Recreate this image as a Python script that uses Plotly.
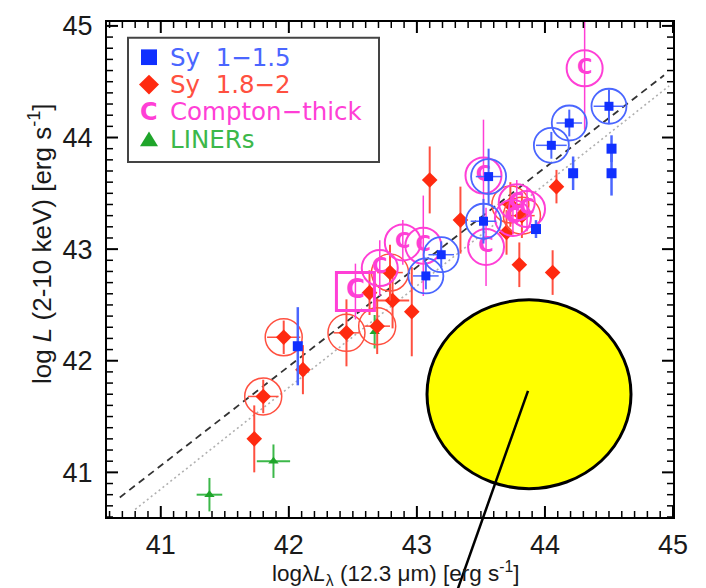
import plotly.graph_objects as go
import numpy as np

# ---- data: log L(12.3um) vs log L(2-10 keV) ----
# Seyfert 1-1.5 (plain)
sy1_x = [42.07, 43.93, 44.22, 44.52, 44.52]
sy1_y = [42.13, 43.18, 43.68, 43.90, 43.68]
sy1_ey = [0.35, 0.08, 0.15, 0.12, 0.20]
# Seyfert 1-1.5 (circled)
sy1c_x = [43.07, 43.19, 43.52, 43.56, 44.05, 44.19, 44.50]
sy1c_y = [42.76, 42.95, 43.25, 43.65, 43.93, 44.13, 44.28]
sy1c_ex = [0.10, 0.10, 0.10, 0.10, 0.12, 0.10, 0.12]
sy1c_ey = [0.12, 0.12, 0.20, 0.25, 0.12, 0.12, 0.15]

# Seyfert 1.8-2 (plain)
sy2_x = [41.73, 42.11, 42.63, 42.81, 42.96, 43.10, 43.34, 43.70, 43.80, 44.06, 44.09]
sy2_y = [41.30, 41.92, 42.61, 42.54, 42.44, 43.62, 43.26, 43.15, 42.86, 42.79, 43.56]
sy2_ex = [0.0, 0.0, 0.0, 0.13, 0.0, 0.0, 0.0, 0.0, 0.0, 0.0, 0.0]
sy2_ey = [0.30, 0.22, 0.20, 0.25, 0.40, 0.30, 0.30, 0.20, 0.20, 0.20, 0.15]
# Seyfert 1.8-2 (circled)
sy2c_x = [41.80, 41.96, 42.45, 42.69, 42.79, 43.73, 43.82]
sy2c_y = [41.68, 42.21, 42.25, 42.31, 42.79, 43.40, 43.30]
sy2c_ex = [0.12, 0.13, 0.10, 0.10, 0.10, 0.10, 0.10]
sy2c_ey = [0.15, 0.15, 0.30, 0.25, 0.25, 0.20, 0.20]

# Compton-thick sources
ct_x = [42.71, 42.89, 43.05, 43.52, 43.54, 43.78, 43.75, 43.86, 44.31]
ct_y = [42.83, 43.06, 43.03, 43.66, 43.02, 43.42, 43.28, 43.36, 44.62]
ct_ey = [0.25, 0.20, 0.45, 0.50, 0.35, 0.20, 0.15, 0.20, 0.55]
ct_sq_x = [42.52]
ct_sq_y = [42.62]
ct_sq_ey = [0.25]

# LINERs
liner_x = [41.38, 41.88, 42.67]
liner_y = [40.80, 41.10, 42.26]
liner_ex = [0.10, 0.13, 0.0]
liner_ey = [0.15, 0.15, 0.15]

# correlation lines: (slope, value at x=42, x start, x end)
fit_dash = (0.89, 41.95, 40.68, 44.93)
fit_dot = (0.91, 41.76, 40.80, 44.97)

legend_labels = ["Sy  1\u22121.5", "Sy  1.8\u22122", "Compton\u2212thick", "LINERs"]

# ---- styling ----
BLUE = "#1030ff"
BLUE_L = "#4a66ff"
RED = "#ff2a10"
RED_L = "#ff5040"
MAG = "#ff3fd6"
GREEN = "#1fa52a"
GREEN_L = "#3cb84a"

W, H = 706, 588
ML, MR, MT, MB = 107, 33, 11, 71
PW, PH = W - ML - MR, H - MT - MB
XR = [40.58, 45.0]
YR = [40.6, 45.035]
MAJOR_LEN, MINOR_LEN = 11, 6


def px(xp):
    return (xp - ML) / PW


def py(yp):
    return (H - MB - yp) / PH


fig = go.Figure()


def line_trace(fit, dash, color, width):
    slope, y42, xa, xb = fit
    xs = np.array([xa, xb])
    fig.add_trace(go.Scatter(x=xs, y=y42 + slope * (xs - 42.0), mode="lines",
                             line=dict(color=color, dash=dash, width=width),
                             hoverinfo="skip", showlegend=False))


line_trace(fit_dot, "2px,3px", "#b0b0b0", 1.6)
line_trace(fit_dash, "7px,5px", "#333333", 1.8)

# LINERs
fig.add_trace(go.Scatter(
    x=liner_x, y=liner_y, mode="markers",
    marker=dict(symbol="triangle-up", size=9, color=GREEN),
    error_x=dict(type="data", array=liner_ex, color=GREEN_L, thickness=2, width=0),
    error_y=dict(type="data", array=liner_ey, color=GREEN_L, thickness=2, width=0),
    showlegend=False))

# Seyfert 1.8-2
fig.add_trace(go.Scatter(
    x=sy2_x, y=sy2_y, mode="markers",
    marker=dict(symbol="diamond", size=12, color=RED),
    error_x=dict(type="data", array=sy2_ex, color=RED_L, thickness=2, width=0),
    error_y=dict(type="data", array=sy2_ey, color=RED_L, thickness=2, width=0),
    showlegend=False))
fig.add_trace(go.Scatter(
    x=sy2c_x, y=sy2c_y, mode="markers",
    marker=dict(symbol="diamond", size=12, color=RED),
    error_x=dict(type="data", array=sy2c_ex, color=RED_L, thickness=1.5, width=0),
    error_y=dict(type="data", array=sy2c_ey, color=RED_L, thickness=2, width=0),
    showlegend=False))
fig.add_trace(go.Scatter(
    x=sy2c_x, y=sy2c_y, mode="markers",
    marker=dict(symbol="circle-open", size=37, color=RED_L, line=dict(width=1.5, color=RED_L)),
    hoverinfo="skip", showlegend=False))

# Compton-thick
fig.add_trace(go.Scatter(
    x=ct_x, y=ct_y, mode="markers+text", text=["C"] * len(ct_x),
    textposition="middle center",
    textfont=dict(family="DejaVu Sans", size=21, color=MAG, weight="bold"),
    marker=dict(symbol="circle-open", size=36, color=MAG, line=dict(width=2, color=MAG)),
    error_y=dict(type="data", array=ct_ey, color=MAG, thickness=1.5, width=0),
    showlegend=False))
fig.add_trace(go.Scatter(
    x=ct_sq_x, y=ct_sq_y, mode="markers+text", text=["C"],
    textposition="middle center",
    textfont=dict(family="DejaVu Sans", size=26, color=MAG, weight="bold"),
    marker=dict(symbol="square-open", size=38, color=MAG, line=dict(width=3, color=MAG)),
    error_y=dict(type="data", array=ct_sq_ey, color=MAG, thickness=1.5, width=0),
    showlegend=False))

# Seyfert 1-1.5
fig.add_trace(go.Scatter(
    x=sy1_x, y=sy1_y, mode="markers",
    marker=dict(symbol="square", size=10, color=BLUE),
    error_y=dict(type="data", array=sy1_ey, color=BLUE_L, thickness=2.5, width=0),
    showlegend=False))
fig.add_trace(go.Scatter(
    x=sy1c_x, y=sy1c_y, mode="markers",
    marker=dict(symbol="square", size=9, color=BLUE),
    error_x=dict(type="data", array=sy1c_ex, color=BLUE_L, thickness=1.5, width=0),
    error_y=dict(type="data", array=sy1c_ey, color=BLUE_L, thickness=2, width=0),
    showlegend=False))
fig.add_trace(go.Scatter(
    x=sy1c_x, y=sy1c_y, mode="markers",
    marker=dict(symbol="circle-open", size=35, color=BLUE_L, line=dict(width=1.8, color=BLUE_L)),
    hoverinfo="skip", showlegend=False))

shapes = []
annotations = []


# ---- tick marks on all four sides of the frame (major every 1, minor every 0.1) ----
def tick_positions(lo, hi):
    return np.round(np.arange(np.ceil(lo * 10), np.floor(hi * 10) + 1) / 10.0, 1)


for v in tick_positions(*XR):
    major = abs(v - round(v)) < 1e-6
    ln = MAJOR_LEN if major else MINOR_LEN
    wd = 2 if major else 1.5
    for anchor, sign in ((0, 1), (1, -1)):
        shapes.append(dict(type="line", xref="x", yref="paper", ysizemode="pixel",
                           yanchor=anchor, x0=v, x1=v, y0=0, y1=sign * ln,
                           line=dict(color="black", width=wd), layer="above"))
for v in tick_positions(*YR):
    major = abs(v - round(v)) < 1e-6
    ln = MAJOR_LEN if major else MINOR_LEN
    wd = 2 if major else 1.5
    for anchor, sign in ((0, 1), (1, -1)):
        shapes.append(dict(type="line", xref="paper", yref="y", xsizemode="pixel",
                           xanchor=anchor, y0=v, y1=v, x0=0, x1=sign * ln,
                           line=dict(color="black", width=wd), layer="above"))

# ---- legend box (drawn by hand) ----
shapes.append(dict(type="rect", xref="paper", yref="paper",
                   x0=px(128), x1=px(379), y0=py(154), y1=py(27),
                   line=dict(color="#444444", width=2), fillcolor="white", layer="above"))
row_y = [47, 75, 103, 131]
row_col = [BLUE_L, RED_L, MAG, GREEN_L]
mx = 149
# square
shapes.append(dict(type="rect", xref="paper", yref="paper",
                   x0=px(mx - 8), x1=px(mx + 8), y0=py(row_y[0] + 8), y1=py(row_y[0] - 8),
                   line=dict(width=0), fillcolor=BLUE, layer="above"))
# diamond
d = 10
shapes.append(dict(type="path", xref="paper", yref="paper",
                   path=f"M {px(mx - d)} {py(row_y[1])} L {px(mx)} {py(row_y[1] - d)} "
                        f"L {px(mx + d)} {py(row_y[1])} L {px(mx)} {py(row_y[1] + d)} Z",
                   line=dict(width=0), fillcolor=RED, layer="above"))
# triangle
t = 9
shapes.append(dict(type="path", xref="paper", yref="paper",
                   path=f"M {px(mx - t)} {py(row_y[3] + 7)} L {px(mx + t)} {py(row_y[3] + 7)} "
                        f"L {px(mx)} {py(row_y[3] - 8)} Z",
                   line=dict(width=0), fillcolor=GREEN, layer="above"))
annotations.append(dict(x=px(mx), y=py(row_y[2]), xref="paper", yref="paper",
                        text="<b>C</b>", showarrow=False, xanchor="center", yanchor="middle",
                        font=dict(family="DejaVu Sans", size=24, color=MAG)))
for lab, yy, col in zip(legend_labels, row_y, row_col):
    annotations.append(dict(x=px(168), y=py(yy), xref="paper", yref="paper",
                            text=lab, showarrow=False, xanchor="left", yanchor="middle",
                            font=dict(family="DejaVu Sans", size=24.5, color=col)))

# ---- axis titles ----
annotations.append(dict(x=px(395), y=py(575), xref="paper", yref="paper",
                        text="log\u03bb<i>L</i><sub>\u03bb</sub> (12.3 \u03bcm) [erg s<sup>-1</sup>]",
                        showarrow=False, xanchor="center", yanchor="middle",
                        font=dict(family="Liberation Sans", size=22.5, color="#1a1a1a")))
annotations.append(dict(x=px(40), y=py(238), xref="paper", yref="paper",
                        text="log <i>L</i> (2-10 keV) [erg s<sup>-1</sup>]", textangle=-90,
                        showarrow=False, xanchor="center", yanchor="middle",
                        font=dict(family="Liberation Sans", size=26, color="#1a1a1a")))

# ---- highlight marker overlay ----
shapes.append(dict(type="circle", xref="paper", yref="paper",
                   x0=px(427), x1=px(631), y0=py(488), y1=py(295),
                   fillcolor="#ffff00", line=dict(color="black", width=3), layer="above"))
shapes.append(dict(type="line", xref="paper", yref="paper",
                   x0=px(528), y0=py(388), x1=px(458), y1=py(590),
                   line=dict(color="black", width=2.5), layer="above"))

label_font = dict(family="Liberation Sans", size=27, color="#1a1a1a")
axis_common = dict(showgrid=False, zeroline=False, showline=True, linecolor="black",
                   linewidth=2, mirror=True, ticks="", tickmode="linear", dtick=1, tick0=41,
                   tickfont=label_font)

fig.update_layout(
    width=W, height=H,
    margin=dict(l=ML, r=MR, t=MT, b=MB),
    plot_bgcolor="white", paper_bgcolor="white",
    xaxis=dict(range=XR, ticklabelstandoff=3, **axis_common),
    yaxis=dict(range=YR, ticklabelstandoff=7, **axis_common),
    shapes=shapes, annotations=annotations, showlegend=False,
)

fig.write_html("out.html")
